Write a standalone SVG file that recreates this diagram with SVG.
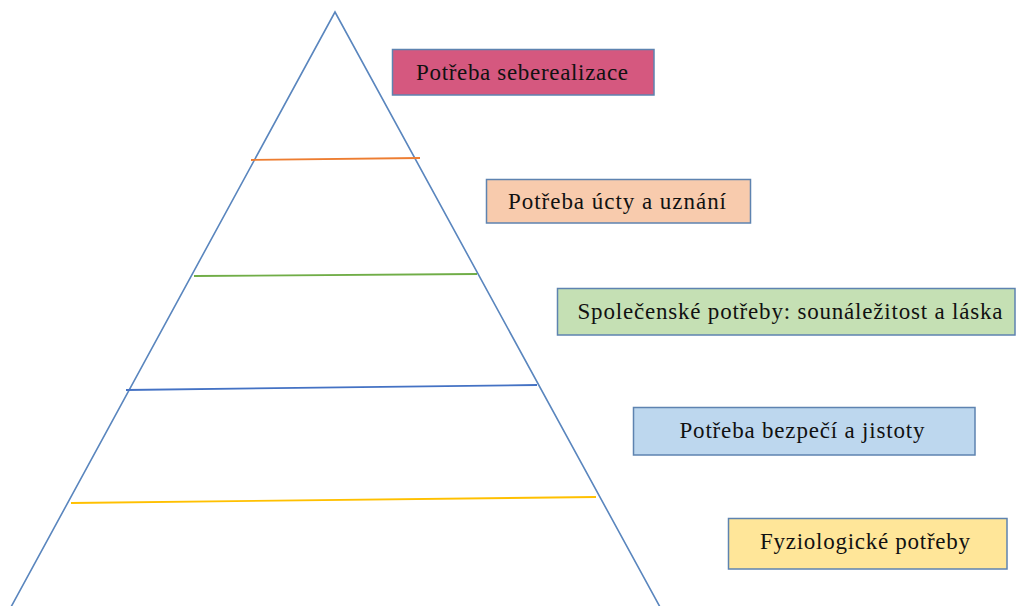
<svg xmlns="http://www.w3.org/2000/svg" width="1017" height="606" viewBox="0 0 1017 606">
<style>
.tri{fill:none;stroke:#5A86BE;stroke-width:1.6}
.lvl{fill:none;stroke-width:1.8}
.box{stroke:#5E83B0;stroke-width:1.5}
.lbl{font-family:"Liberation Serif","DejaVu Serif",serif;font-size:23px;fill:#111;text-anchor:middle}
</style>
<rect width="1017" height="606" fill="#fff"/>
<g id="connectors">
<path class="tri" d="M11,607 L335,12 L660,607"/>
<line class="lvl" x1="251" y1="160" x2="420" y2="158" stroke="#ED7D31"/>
<line class="lvl" x1="194" y1="276" x2="477" y2="274" stroke="#70AD47"/>
<line class="lvl" x1="126" y1="390" x2="537" y2="385" stroke="#4472C4"/>
<line class="lvl" x1="71" y1="503" x2="596" y2="497" stroke="#FFC000"/>
</g>
<g id="n1"><rect class="box" x="392.5" y="49.5" width="261.5" height="45.5" fill="#D5587F"/><text class="lbl" x="522" y="80" textLength="212" lengthAdjust="spacing">Potřeba seberealizace</text></g>
<g id="n2"><rect class="box" x="486.5" y="179.5" width="264" height="43.5" fill="#F8CBAD"/><text class="lbl" x="617" y="209" textLength="218" lengthAdjust="spacing">Potřeba úcty a uznání</text></g>
<g id="n3"><rect class="box" x="557.5" y="288.5" width="457.5" height="46.5" fill="#C5E0B4"/><text class="lbl" x="790" y="319" textLength="425" lengthAdjust="spacing">Společenské potřeby: sounáležitost a láska</text></g>
<g id="n4"><rect class="box" x="633.5" y="407.5" width="341.5" height="47.5" fill="#BDD7EE"/><text class="lbl" x="802" y="438" textLength="245" lengthAdjust="spacing">Potřeba bezpečí a jistoty</text></g>
<g id="n5"><rect class="box" x="728.5" y="518.5" width="278.5" height="50.5" fill="#FFE699"/><text class="lbl" x="865" y="549" textLength="210" lengthAdjust="spacing">Fyziologické potřeby</text></g>
</svg>
